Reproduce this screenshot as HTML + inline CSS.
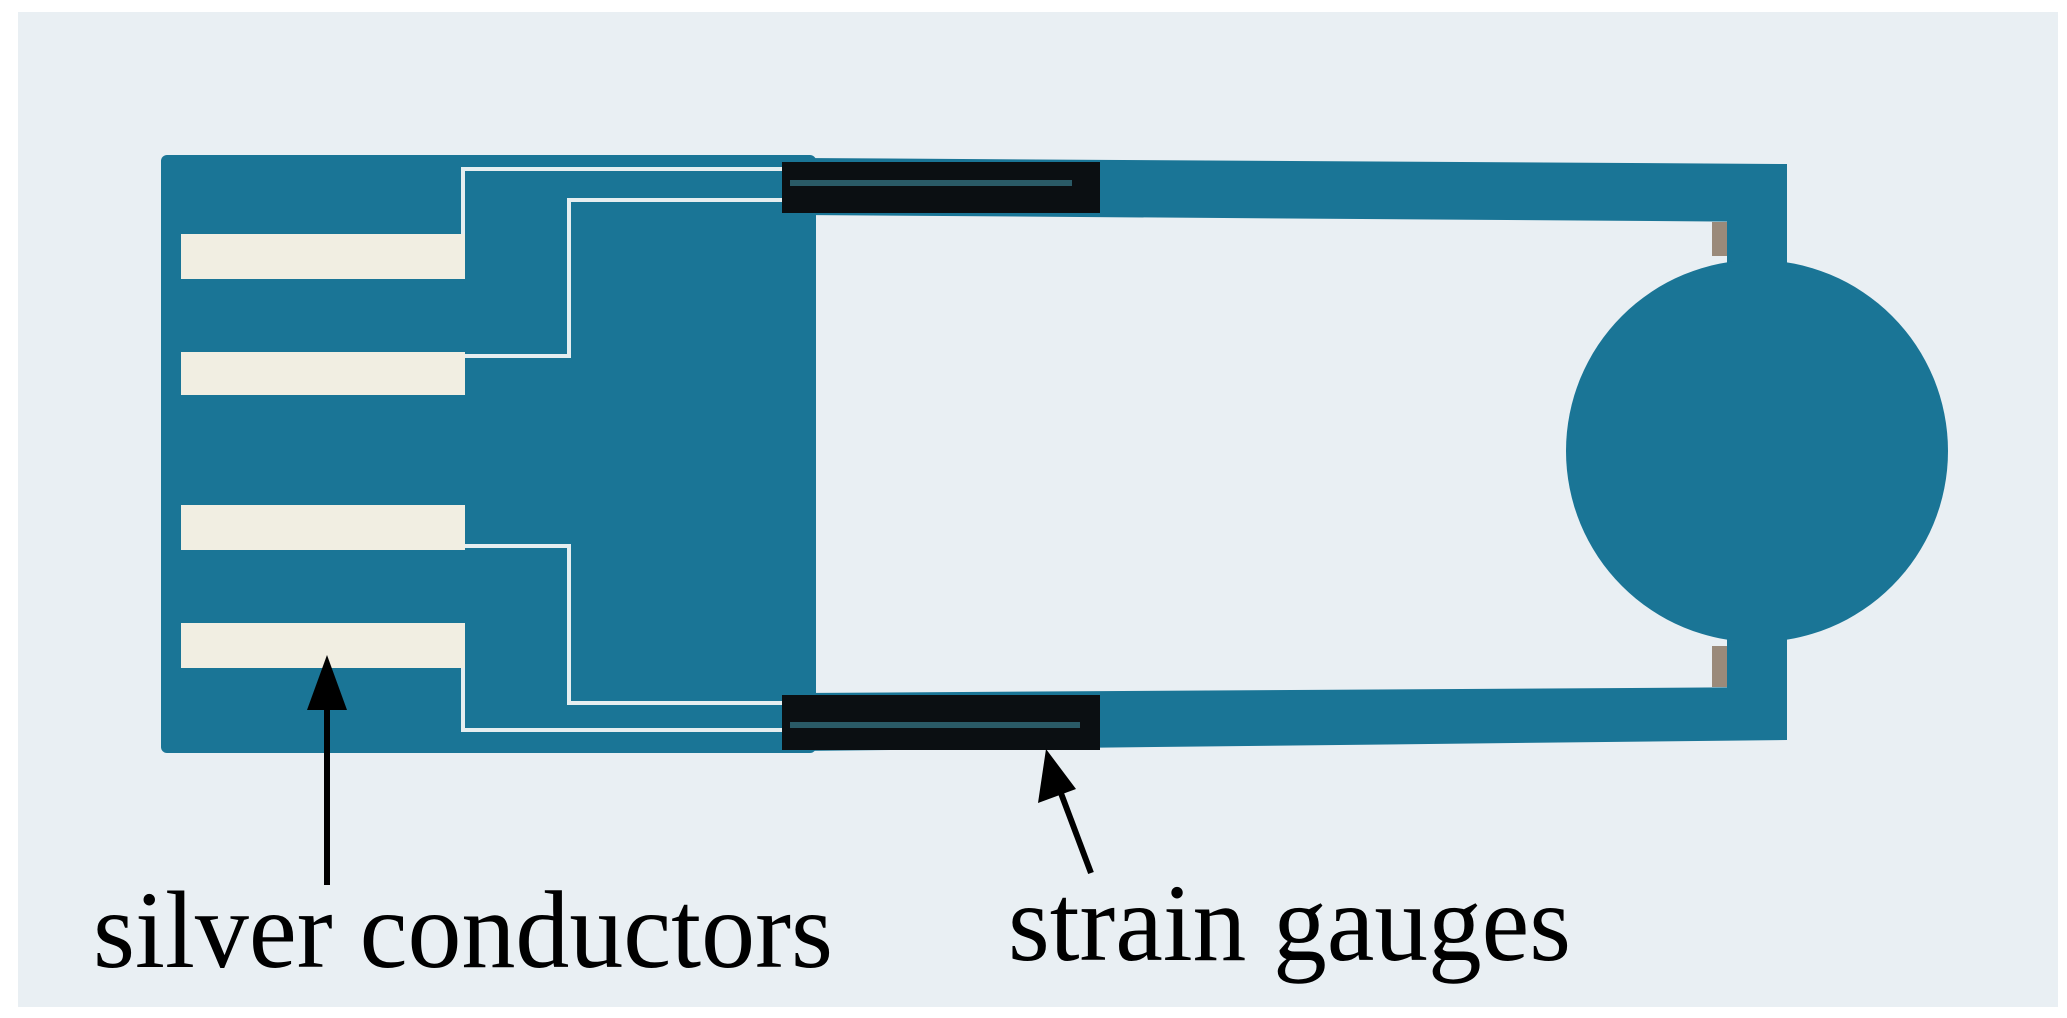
<!DOCTYPE html>
<html><head><meta charset="utf-8"><style>
html,body{margin:0;padding:0;background:#fff}
svg{display:block}
</style></head><body>
<svg width="2067" height="1018" viewBox="0 0 2067 1018" xmlns="http://www.w3.org/2000/svg">
<rect x="0" y="0" width="2067" height="1018" fill="#ffffff"/>
<rect x="18" y="12" width="2040" height="995" fill="#e9eff3"/>
<g fill="#1a7596">
  <rect x="161" y="155" width="655" height="598" rx="6"/>
  <polygon points="800,158 1787,164 1787,222 800,215"/>
  <polygon points="800,693 1787,687 1787,740 800,751"/>
  <rect x="1727" y="164" width="60" height="576"/>
  <circle cx="1757" cy="451" r="191"/>
</g>
<rect x="1712" y="222" width="15" height="34" fill="#9a8a7a"/>
<rect x="1712" y="646" width="15" height="41" fill="#9a8a7a"/>
<g fill="#f1eee2">
  <rect x="181" y="234" width="284" height="45"/>
  <rect x="181" y="352" width="284" height="43"/>
  <rect x="181" y="505" width="284" height="45"/>
  <rect x="181" y="623" width="284" height="45"/>
</g>
<g fill="none" stroke="#e6eef0" stroke-width="4">
  <polyline points="463,234 463,169 785,169"/>
  <polyline points="465,356 569,356 569,200 785,200"/>
  <polyline points="465,546 569,546 569,703 785,703"/>
  <polyline points="463,668 463,730 785,730"/>
</g>
<rect x="782" y="162" width="318" height="51" fill="#0b0f12"/>
<rect x="790" y="180" width="282" height="6" fill="#2a5a66"/>
<rect x="782" y="695" width="318" height="55" fill="#0b0f12"/>
<rect x="790" y="722" width="290" height="6" fill="#2a5a66"/>
<g fill="#000" stroke="#000">
  <line x1="327" y1="700" x2="327" y2="885" stroke-width="6"/>
  <polygon points="327,655 307,710 347,710" stroke="none"/>
  <line x1="1091" y1="873" x2="1056" y2="780" stroke-width="6"/>
  <polygon points="1046,749 1038,803 1076,789" stroke="none"/>
</g>
<g font-family="'Liberation Serif', serif" font-size="110" fill="#000">
  <text x="93" y="967" textLength="740" lengthAdjust="spacingAndGlyphs">silver conductors</text>
  <text x="1008" y="960" textLength="563" lengthAdjust="spacingAndGlyphs">strain gauges</text>
</g>
</svg>
</body></html>
